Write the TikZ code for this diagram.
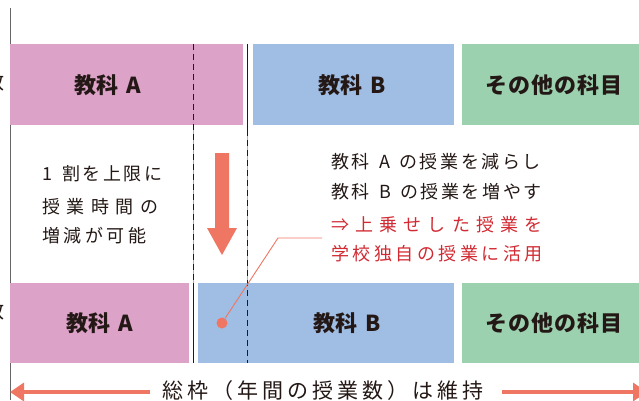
\documentclass[tikz,border=0pt]{standalone}
\usepackage{fontspec}
\setmainfont{Noto Sans CJK JP}
\usetikzlibrary{arrows.meta}
\makeatletter
\newcommand\trk[2]{\@tfor\@ch:=#2\do{\@ch\hspace{#1}}\unskip}
\makeatother
\definecolor{pinkc}{HTML}{DCA2C8}
\definecolor{bluec}{HTML}{A0BDE3}
\definecolor{greenc}{HTML}{9BD1AF}
\definecolor{redc}{HTML}{EE7663}
\definecolor{redtext}{HTML}{D12A32}
\definecolor{darkc}{HTML}{231815}
\begin{document}
\begin{tikzpicture}[x=1pt,y=-1pt,
  box/.style={rectangle,inner sep=0pt,draw=none},
  boxlabel/.style={inner sep=0pt,font=\fontsize{22}{22}\selectfont\bfseries,text=darkc},
  body/.style={inner sep=0pt,anchor=west,font=\fontsize{18}{18}\selectfont,text=darkc},
  redbody/.style={body,text=redtext},
  guideline/.style={line width=1pt,draw=black!30},
  guidedash/.style={line width=1pt,draw=darkc,dash pattern=on 6pt off 4pt},
  guidesolid/.style={line width=1pt,draw=darkc},
  callout/.style={draw=redc,line width=0.9pt},
  dot/.style={circle,fill=redc,inner sep=0pt,minimum size=11pt},
  bigarrow/.style={draw=redc,line width=4.5pt,-{Triangle[length=14pt,width=18pt]}},
]
\useasboundingbox (0,0) rectangle (639,400);
\clip (0,0) rectangle (639,400);

% axis line
\coordinate (axtop) at (10,8);
\coordinate (axbot) at (10,400);
\draw[line width=1pt,draw=black!60] (axtop) -- (axbot);

% cut-off labels at left edge
\node[inner sep=0pt,anchor=east,font=\fontsize{20}{20}\selectfont,text=darkc] (lt) at (5,82) {数};
\node[inner sep=0pt,anchor=east,font=\fontsize{20}{20}\selectfont,text=darkc] (lb) at (5,311) {数};

% top row
\node[box,fill=pinkc,minimum width=233pt,minimum height=81pt] (A1) at (126.5,84.5) {};
\node[box,fill=bluec,minimum width=201pt,minimum height=81pt] (B1) at (353.5,84.5) {};
\node[box,fill=greenc,minimum width=184pt,minimum height=81pt] (C1) at (554,84.5) {};
% bottom row
\node[box,fill=pinkc,minimum width=179pt,minimum height=80pt] (A2) at (99.5,323) {};
\node[box,fill=bluec,minimum width=256pt,minimum height=80pt] (B2) at (326,323) {};
\node[box,fill=greenc,minimum width=184pt,minimum height=80pt] (C2) at (554,323) {};

% guide lines
\coordinate (g1a) at (193,44);
\coordinate (g1b) at (193,283);
\coordinate (g1c) at (193,363);
\coordinate (g2a) at (247,44);
\coordinate (g2b) at (247,130);
\coordinate (g2c) at (247,363);
\draw[guideline] (g1a) -- (g1b);
\draw[guidedash] (g1a) -- (g1b);
\draw[guidesolid] (g1b) -- (g1c);
\draw[guidesolid] (g2a) -- (g2b);
\draw[guideline] (g2b) -- (g2c);
\draw[guidedash] (g2b) -- (g2c);

% box labels
\node[boxlabel] (tA1) at (108,85) {教科\hspace{8pt}A};
\node[boxlabel] (tB1) at (352,85) {教科\hspace{8pt}B};
\node[boxlabel] (tC1) at (554,85) {\trk{1pt}{その他の科目}};
\node[boxlabel] (tA2) at (100,323) {教科\hspace{8pt}A};
\node[boxlabel] (tB2) at (347,323) {教科\hspace{8pt}B};
\node[boxlabel] (tC2) at (554,323) {\trk{1pt}{その他の科目}};

% left explanation
\node[body] (l1) at (42,174) {1\hspace{10pt}\trk{2.5pt}{割を上限に}};
\node[body] (l2) at (42,207) {\trk{6.5pt}{授業時間の}};
\node[body] (l3) at (42,236) {\trk{3.5pt}{増減が可能}};

% down arrow
\fill[redc] (215,153) -- (229,153) -- (229,228) -- (237,228) -- (222,255) -- (207,228) -- (215,228) -- cycle;

% right explanation
\node[body] (r1) at (331,162) {\trk{2.6pt}{教科~A~の授業を減らし}};
\node[body] (r2) at (331,192) {\trk{2.6pt}{教科~B~の授業を増やす}};
\node[redbody] (r3) at (331,225) {\trk{6.2pt}{⇒上乗せした授業を}};
\node[redbody] (r4) at (331,254) {\trk{3.5pt}{学校独自の授業に活用}};

% callout
\coordinate (bend) at (278,238);
\coordinate (tail) at (322,238);
\node[dot] (dot) at (222,323) {};
\draw[callout] (dot) -- (bend) -- (tail);

% bottom arrow
\node[inner sep=0pt,anchor=west,font=\fontsize{21}{21}\selectfont,text=darkc] (tot) at (162,391) {\trk{4pt}{総枠（年間の授業数）は維持}};
\coordinate (la) at (150,392);
\coordinate (lt2) at (10,392);
\coordinate (ra) at (502,392);
\coordinate (rt) at (647,392);
\draw[bigarrow] (la) -- (lt2);
\draw[bigarrow] (ra) -- (rt);
\end{tikzpicture}
\end{document}
